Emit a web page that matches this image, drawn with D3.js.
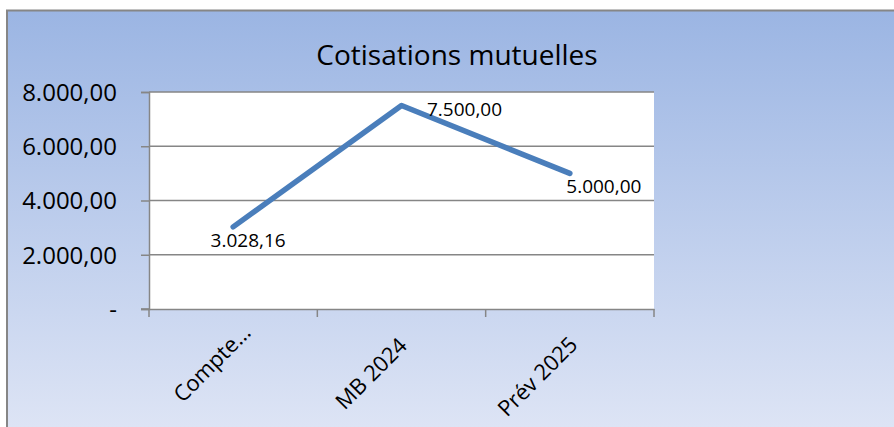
<!DOCTYPE html>
<html>
<head>
<meta charset="utf-8">
<script src="https://cdn.jsdelivr.net/npm/d3@7"></script>
<style>
  body { margin: 0; background: #fff; }
  text { font-family: "Open Sans", sans-serif; fill: #000; }
</style>
</head>
<body>
<svg id="chart"></svg>
<script>
const categories = ["Compte…", "MB 2024", "Prév 2025"];
const values = [3028.16, 7500, 5000];
const yTicks = [0, 2000, 4000, 6000, 8000];

const W = 894, H = 427;
const margin = {top: 92, right: 240, bottom: 118, left: 149};
const width = 654 - margin.left;
const height = 309 - margin.top;

const svg = d3.select("#chart").attr("width", W).attr("height", H);

const defs = svg.append("defs");
const grad = defs.append("linearGradient")
  .attr("id", "bg").attr("x1", 0).attr("y1", 0).attr("x2", 0).attr("y2", 1);
grad.append("stop").attr("offset", "0%").attr("stop-color", "#9bb5e3");
grad.append("stop").attr("offset", "100%").attr("stop-color", "#dde4f5");

// outer chart area
svg.append("rect")
  .attr("x", 7).attr("y", 10).attr("width", W - 7).attr("height", H - 10)
  .attr("fill", "url(#bg)");
svg.append("path")
  .attr("d", "M7," + H + "V10.5H" + W)
  .attr("fill", "none").attr("stroke", "#868686").attr("stroke-width", 2);

svg.append("text")
  .attr("x", 457).attr("y", 65)
  .attr("text-anchor", "middle")
  .style("font-size", "28px")
  .text("Cotisations mutuelles");

const g = svg.append("g")
  .attr("transform", "translate(" + margin.left + "," + margin.top + ")");

g.append("rect").attr("width", width).attr("height", height).attr("fill", "#fff");

const x = d3.scaleBand().domain(categories).range([0, width]);
const y = d3.scaleLinear().domain([0, 8000]).range([height, 0]);

const fmt = d3.formatLocale({decimal: ",", thousands: ".", grouping: [3], currency: ["", ""]}).format(",.2f");

// gridlines
g.append("g").selectAll("line")
  .data(yTicks.filter(d => d > 0))
  .join("line")
  .attr("x1", 0).attr("x2", width)
  .attr("y1", d => y(d)).attr("y2", d => y(d))
  .attr("stroke", "#868686").attr("stroke-width", 1.5);

// y axis
const yAxis = g.append("g")
  .call(d3.axisLeft(y).tickValues(yTicks).tickSize(8).tickPadding(24)
    .tickFormat(d => d === 0 ? "-" : fmt(d)));
yAxis.select(".domain").attr("stroke", "#868686").attr("stroke-width", 1.5);
yAxis.selectAll(".tick line").attr("stroke", "#868686").attr("stroke-width", 1.5);
yAxis.selectAll(".tick text").style("font-size", "24px").attr("dy", "0.35em")
  .style("font-family", "'Open Sans', sans-serif");

// x axis
const xAxis = g.append("g")
  .attr("transform", "translate(0," + height + ")")
  .call(d3.axisBottom(x).tickSize(0).tickFormat(""));
xAxis.select(".domain").attr("stroke", "#868686").attr("stroke-width", 1.5);
xAxis.append("g").selectAll("line")
  .data(d3.range(categories.length + 1))
  .join("line")
  .attr("x1", i => i * x.step()).attr("x2", i => i * x.step())
  .attr("y1", 0).attr("y2", 8)
  .attr("stroke", "#868686").attr("stroke-width", 1.5);
xAxis.append("line").attr("x1", -8).attr("x2", 0).attr("y1", 0).attr("y2", 0)
  .attr("stroke", "#868686").attr("stroke-width", 1.5);

// truncated first label sits a bit further along its baseline
const labelShift = [[19, 25], [7, 38], [9, 37]];
xAxis.append("g").selectAll("text")
  .data(categories)
  .join("text")
  .attr("transform", (d, i) => "translate(" + (x(d) + x.bandwidth() / 2 + labelShift[i][0]) + "," + labelShift[i][1] + ") rotate(-45)")
  .attr("text-anchor", "end")
  .style("font-size", "22px")
  .text(d => d);

// line
const line = d3.line()
  .x((d, i) => x(categories[i]) + x.bandwidth() / 2)
  .y(d => y(d));

g.append("path")
  .datum(values)
  .attr("d", line)
  .attr("fill", "none")
  .attr("stroke", "#4a7ebb")
  .attr("stroke-width", 5.5)
  .attr("stroke-linecap", "round")
  .attr("stroke-linejoin", "round");

// data labels (to the right/below of points, as in Excel)
const labelOffsets = [[15, 20], [63, 10], [34, 20]];
g.append("g").selectAll("text")
  .data(values)
  .join("text")
  .attr("x", (d, i) => x(categories[i]) + x.bandwidth() / 2 + labelOffsets[i][0])
  .attr("y", (d, i) => y(d) + labelOffsets[i][1])
  .attr("text-anchor", "middle")
  .style("font-size", "19px")
  .text(d => fmt(d));
</script>
</body>
</html>
